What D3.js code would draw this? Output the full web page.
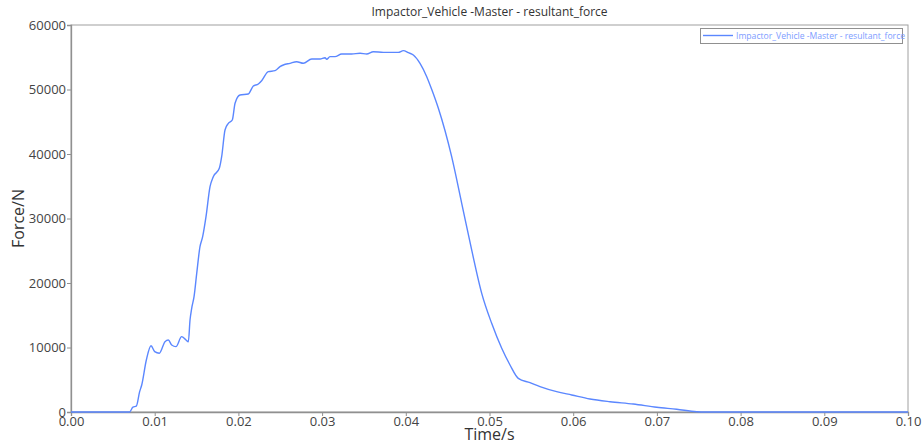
<!DOCTYPE html>
<html><head><meta charset="utf-8">
<script src="https://cdn.jsdelivr.net/npm/d3@7"></script>
<style>body{margin:0;background:#fff;} svg{display:block;font-family:"Open Sans","Noto Sans",sans-serif;}</style>
</head><body>
<script>
const chartTitle = "Impactor_Vehicle -Master - resultant_force";
const seriesName = "Impactor_Vehicle -Master - resultant_force";
const xLabel = "Time/s";
const yLabel = "Force/N";
const xTicks = [0,0.01,0.02,0.03,0.04,0.05,0.06,0.07,0.08,0.09,0.10];
const yTicks = [0,10000,20000,30000,40000,50000,60000];
const time = [0,0.0070,0.0074,0.0078,0.0082,0.00845,0.0090,0.00956,0.0100,0.01055,0.01123,0.01163,0.01203,0.01254,0.01322,0.01374,0.01402,0.01422,0.01442,0.0147,0.01502,0.01541,0.01573,0.01613,0.01661,0.0170,0.01772,0.0180,0.0184,0.0188,0.01927,0.0196,0.02019,0.02118,0.02178,0.02238,0.02278,0.02357,0.02437,0.02497,0.02537,0.02616,0.02696,0.02776,0.02876,0.02975,0.03035,0.03055,0.03094,0.03154,0.03234,0.03353,0.03453,0.03533,0.03612,0.03732,0.03811,0.0391,0.03971,0.0403,0.0409,0.0417,0.0425,0.0431,0.04389,0.04548,0.04668,0.04787,0.04907,0.05026,0.05146,0.05245,0.05344,0.05484,0.05603,0.05802,0.05982,0.062,0.0644,0.06718,0.06998,0.07236,0.07475,0.0756,0.10];
const force = [0,0,750,900,3150,4190,8060,10280,9350,9100,10900,11160,10390,10130,11680,11160,10900,14260,16080,17880,21500,25630,27180,30280,34930,36480,37780,39580,43720,44760,45270,47860,49150,49300,50540,50850,51370,52760,52920,53540,53800,54060,54310,54060,54730,54730,54930,54680,55090,55090,55500,55500,55610,55500,55860,55760,55760,55760,56020,55710,55350,54060,51990,50000,47090,39580,32360,25120,18400,13750,9880,7290,5220,4550,3930,3150,2640,2020,1600,1240,730,420,50,0,0];

const W = 922, H = 445;
const m = {left:71, right:14, top:25, bottom:33};
const svg = d3.select("body").append("svg").attr("width",W).attr("height",H);
const x = d3.scaleLinear().domain([0,0.10]).range([m.left, W-m.right]);
const y = d3.scaleLinear().domain([0,60000]).range([H-m.bottom, m.top]);

// frame
svg.append("rect").attr("x",x(0)).attr("y",y(60000)).attr("width",x(0.10)-x(0)).attr("height",y(0)-y(60000))
  .attr("fill","none").attr("stroke","#a0a0a0").attr("stroke-width",1);

const xa = svg.append("g").attr("transform",`translate(0,${y(0)})`)
  .call(d3.axisBottom(x).tickValues(xTicks).tickFormat(d3.format(".2f")).tickSize(4).tickPadding(1));
const ya = svg.append("g").attr("transform",`translate(${x(0)},0)`)
  .call(d3.axisLeft(y).tickValues(yTicks).tickFormat(d=>String(d)).tickSize(4).tickPadding(1));
[xa,ya].forEach(g=>{
  g.select(".domain").attr("stroke","#909090").attr("stroke-width",1.3);
  g.selectAll(".tick line").attr("stroke","#909090");
  g.selectAll(".tick text").attr("fill","#444").style("font-size","13px").style("font-family","'Open Sans','Noto Sans',sans-serif");
});

// line
const line = d3.line().x((d,i)=>x(time[i])).y(d=>y(d)).curve(d3.curveMonotoneX);
svg.append("path").datum(force).attr("d",line).attr("fill","none").attr("stroke","#5b87ff").attr("stroke-width",1.4);

// title
svg.append("text").attr("x",(x(0)+x(0.10))/2).attr("y",16).attr("text-anchor","middle")
  .attr("fill","#333").style("font-size","12px").text(chartTitle);
// axis titles
svg.append("text").attr("x",(x(0)+x(0.10))/2).attr("y",440).attr("text-anchor","middle")
  .attr("fill","#333").style("font-size","16px").text(xLabel);
svg.append("text").attr("transform",`translate(24,${(y(0)+y(60000))/2}) rotate(-90)`).attr("text-anchor","middle")
  .attr("fill","#333").style("font-size","16px").text(yLabel);

// legend
const lg = svg.append("g");
lg.append("rect").attr("x",700.5).attr("y",28.5).attr("width",202).attr("height",15).attr("fill","#fff").attr("stroke","#909090");
lg.append("line").attr("x1",703).attr("x2",733).attr("y1",35.5).attr("y2",35.5).attr("stroke","#5b87ff").attr("stroke-width",1.4);
lg.append("text").attr("x",736).attr("y",39).attr("fill","#7d9cff").style("font-size","8.6px").text(seriesName);
</script>
</body></html>
